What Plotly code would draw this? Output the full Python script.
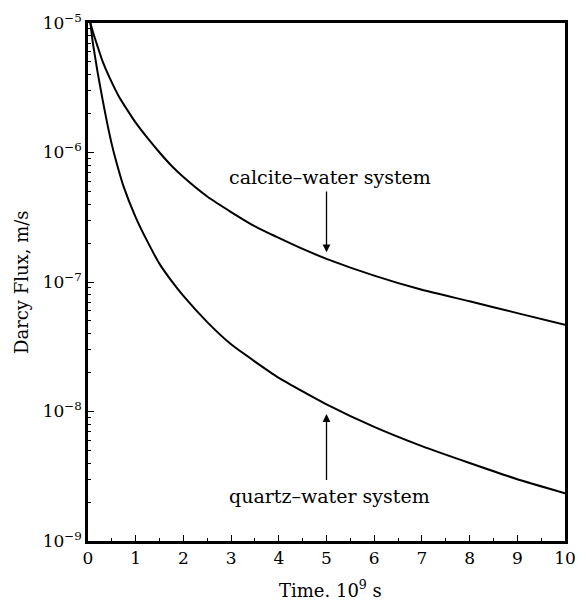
import numpy as np
import plotly.graph_objects as go

# Time, units of 1e9 s
time_calcite = [0.05, 0.1, 0.2, 0.3, 0.45, 0.65, 0.85, 1.0, 1.25, 1.5, 1.75, 2.0, 2.5, 3.0,
                3.5, 4.0, 4.5, 5.0, 6.0, 7.0, 8.0, 9.0, 10.0]
flux_calcite = [1.0e-5, 8.6e-6, 6.6e-6, 5.13e-6, 3.8e-6, 2.7e-6, 2.06e-6, 1.70e-6, 1.29e-6,
                1.0e-6, 7.9e-7, 6.46e-7, 4.57e-7, 3.47e-7, 2.69e-7, 2.19e-7, 1.80e-7, 1.51e-7,
                1.12e-7, 8.7e-8, 7.1e-8, 5.75e-8, 4.68e-8]

time_quartz = [0.05, 0.1, 0.2, 0.3, 0.4, 0.5, 0.6, 0.75, 1.0, 1.25, 1.5, 1.75, 2.0, 2.5, 3.0,
               3.5, 4.0, 4.5, 5.0, 6.0, 7.0, 8.0, 9.0, 10.0]
flux_quartz = [1.0e-5, 7.1e-6, 4.2e-6, 2.63e-6, 1.70e-6, 1.15e-6, 8.3e-7, 5.4e-7, 3.16e-7,
               2.04e-7, 1.38e-7, 1.02e-7, 7.8e-8, 4.9e-8, 3.3e-8, 2.43e-8, 1.82e-8, 1.43e-8,
               1.135e-8, 7.6e-9, 5.4e-9, 4.0e-9, 3.0e-9, 2.34e-9]

x_ticks = list(range(0, 11))
y_tick_vals = [1e-9, 1e-8, 1e-7, 1e-6, 1e-5]
y_tick_text = ["10<sup>\u22129</sup>", "10<sup>\u22128</sup>", "10<sup>\u22127</sup>",
               "10<sup>\u22126</sup>", "10<sup>\u22125</sup>"]
y_minor_vals = [m * 10.0 ** e for e in range(-9, -5) for m in range(2, 10)]

FONT = "DejaVu Serif"
BLACK = "#000000"

fig = go.Figure()
for t, f in [(time_calcite, flux_calcite), (time_quartz, flux_quartz)]:
    fig.add_trace(go.Scatter(x=t, y=f, mode="lines",
                             line=dict(color=BLACK, width=2, shape="spline", smoothing=0.5),
                             showlegend=False, hoverinfo="skip"))

# labels and pointer arrows at t = 5 (annotation positions on a log axis are log10 values)
label_x = 5.0
arrows = [
    # (tip, tail)
    (-6.77, -6.29),
    (-8.02, -8.54),
]
labels = [("calcite\u2013water system", -6.19), ("quartz\u2013water system", -8.655)]

annotations = []
for tip, tail in arrows:
    annotations.append(dict(x=label_x, y=tip, ax=label_x, ay=tail, xref="x", yref="y",
                            axref="x", ayref="y", text="", showarrow=True,
                            arrowhead=2, arrowsize=1.2, arrowwidth=1.3, arrowcolor=BLACK))
for txt, ylog in labels:
    annotations.append(dict(x=label_x, y=ylog, xref="x", yref="y", text=txt, showarrow=False,
                            xshift=3, font=dict(family=FONT, size=19, color=BLACK)))

annotations.append(dict(x=0, y=0.5, xref="paper", yref="paper", xshift=-67, xanchor="center",
                        yanchor="middle", text="Darcy Flux, m/s", textangle=-90, showarrow=False,
                        font=dict(family=FONT, size=18, color=BLACK)))
annotations.append(dict(x=0.5, y=0, xref="paper", yref="paper", yshift=-48, xshift=4,
                        xanchor="center", yanchor="middle", text="Time. 10<sup>9</sup> s",
                        showarrow=False, font=dict(family=FONT, size=18, color=BLACK)))

fig.update_layout(
    width=587, height=601,
    margin=dict(l=88, r=11, t=21, b=60),
    paper_bgcolor="white", plot_bgcolor="white",
    font=dict(family=FONT, size=16, color=BLACK),
    annotations=annotations,
)
fig.update_xaxes(
    range=[0, 10], tickvals=x_ticks, ticks="inside", ticklen=6, tickwidth=1.2,
    tickcolor=BLACK, showgrid=False, zeroline=False,
    showline=True, linecolor=BLACK, linewidth=2.5, mirror=True,
    minor=dict(dtick=0.5, ticks="inside", ticklen=3, tickcolor=BLACK, showgrid=False),
    tickfont=dict(family=FONT, size=17),
)
fig.update_yaxes(
    type="log", range=[-9, -5], tickvals=y_tick_vals, ticktext=y_tick_text,
    ticks="inside", ticklen=6, tickwidth=1.2, tickcolor=BLACK, showgrid=False, zeroline=False,
    showline=True, linecolor=BLACK, linewidth=2.5, mirror=True,
    minor=dict(tickmode="array", tickvals=y_minor_vals, ticks="inside", ticklen=3,
               tickwidth=1, tickcolor=BLACK, showgrid=False),
    tickfont=dict(family=FONT, size=17),
)

fig.write_html("out.html")
